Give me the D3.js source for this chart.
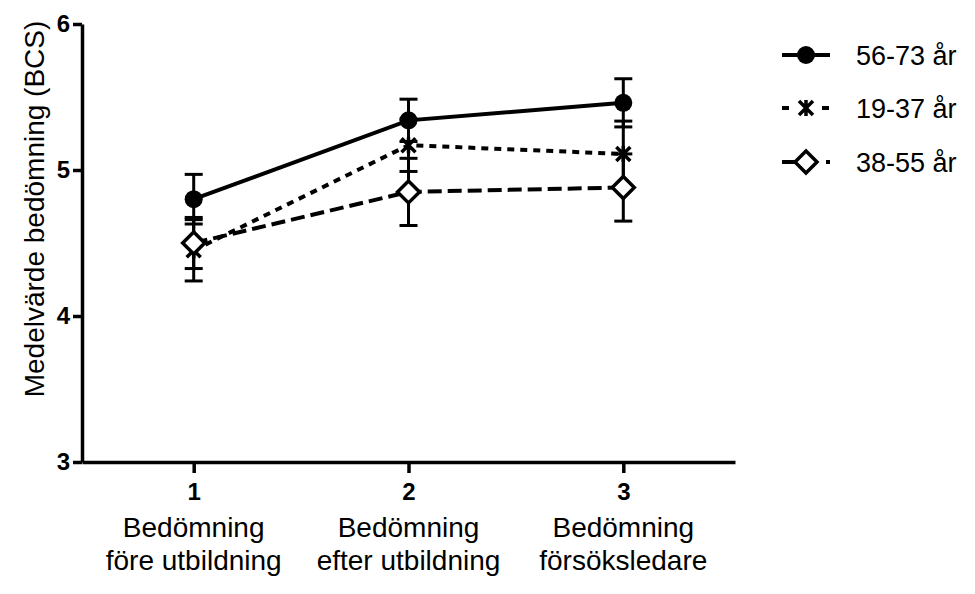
<!DOCTYPE html>
<html>
<head>
<meta charset="utf-8">
<script src="https://cdn.jsdelivr.net/npm/d3@7"></script>
<style>
  html, body { margin: 0; padding: 0; background: #fff; }
  svg { display: block; font-family: "Liberation Sans", Arial, sans-serif; }
</style>
</head>
<body>
<svg id="chart" width="975" height="594"></svg>
<script>
// measurement points and category texts
const occasions = [1, 2, 3];
const occasionLabels = [
  ['Bedömning', 'före utbildning'],
  ['Bedömning', 'efter utbildning'],
  ['Bedömning', 'försöksledare']
];
const yTicks = [3, 4, 5, 6];

const groups = ['56-73 år', '19-37 år', '38-55 år'];
const mean5673 = [4.80, 5.34, 5.46];
const err5673 = [0.17, 0.145, 0.165];
const mean1937 = [4.45, 5.17, 5.11];
const err1937 = [0.21, 0.18, 0.225];
const mean3855 = [4.50, 4.85, 4.88];
const err3855 = [0.175, 0.23, 0.23];

const svg = d3.select('#chart');

const x = d3.scaleLinear().domain([0.48, 3.52]).range([82, 735]);
const y = d3.scaleLinear().domain([3, 6]).range([462, 24]);

const series = [
  { name: groups[1], mean: mean1937, err: err1937, dash: '7,6', symbol: 'cross' },
  { name: groups[2], mean: mean3855, err: err3855, dash: '14,6', symbol: 'diamond' },
  { name: groups[0], mean: mean5673, err: err5673, dash: null, symbol: 'circle' }
];

// marker drawing
const drawMarker = (g, symbol) => {
  if (symbol === 'circle') {
    g.append('circle').attr('r', 9).attr('fill', '#000');
  } else if (symbol === 'diamond') {
    g.append('path').attr('d', 'M0,-11L11,0L0,11L-11,0Z')
      .attr('fill', '#fff').attr('stroke', '#000').attr('stroke-width', 3.5);
  } else {
    g.append('path').attr('d', 'M-7,-7L7,7M-7,7L7,-7M0,-8L0,8')
      .attr('stroke', '#000').attr('stroke-width', 3.5).attr('fill', 'none');
  }
};

// axes
const yAxis = svg.append('g')
  .attr('transform', `translate(${x.range()[0]},0)`)
  .call(d3.axisLeft(y).tickValues(yTicks).tickFormat(d3.format('d')).tickSize(9).tickSizeOuter(0).tickPadding(3));
yAxis.select('.domain').attr('stroke-width', 3.5);
yAxis.selectAll('.tick line').attr('stroke-width', 3.5);
yAxis.selectAll('.tick text').attr('font-size', 24).attr('font-weight', 'bold')
  .attr('font-family', '"Liberation Sans", Arial, sans-serif').attr('fill', '#000');

const xAxis = svg.append('g')
  .attr('transform', `translate(0,${y(3)})`)
  .call(d3.axisBottom(x).tickValues(occasions).tickFormat(d3.format('d')).tickSize(11).tickSizeOuter(0).tickPadding(10));
xAxis.select('.domain').attr('stroke-width', 3.5);
xAxis.selectAll('.tick line').attr('stroke-width', 3.5);
xAxis.selectAll('.tick text').attr('font-size', 24).attr('font-weight', 'bold')
  .attr('font-family', '"Liberation Sans", Arial, sans-serif').attr('fill', '#000');

// category labels under the axis
occasionLabels.forEach((lines, i) => {
  const t = svg.append('text')
    .attr('x', x(occasions[i]))
    .attr('y', 537)
    .attr('text-anchor', 'middle')
    .attr('font-size', 28)
    .attr('fill', '#000');
  lines.forEach((l, j) => {
    t.append('tspan').attr('x', x(occasions[i])).attr('dy', j === 0 ? 0 : 33).text(l);
  });
});

// y axis title
svg.append('text')
  .attr('transform', `translate(44,${(y(6) + y(3)) / 2 - 34}) rotate(-90)`)
  .attr('text-anchor', 'middle')
  .attr('font-size', 28)
  .attr('fill', '#000')
  .text('Medelvärde bedömning (BCS)');

// lines, error bars, markers
const line = d3.line().x((d, i) => x(occasions[i])).y(d => y(d));

series.forEach(s => {
  const g = svg.append('g');
  g.append('path')
    .datum(s.mean)
    .attr('d', line)
    .attr('fill', 'none')
    .attr('stroke', '#000')
    .attr('stroke-width', 4)
    .attr('stroke-dasharray', s.dash);

  s.mean.forEach((m, i) => {
    const cx = x(occasions[i]);
    const lo = y(m - s.err[i]);
    const hi = y(m + s.err[i]);
    g.append('line').attr('x1', cx).attr('x2', cx).attr('y1', lo).attr('y2', hi)
      .attr('stroke', '#000').attr('stroke-width', 3);
    [lo, hi].forEach(v => {
      g.append('line').attr('x1', cx - 9).attr('x2', cx + 9).attr('y1', v).attr('y2', v)
        .attr('stroke', '#000').attr('stroke-width', 3);
    });
  });
});

series.forEach(s => {
  s.mean.forEach((m, i) => {
    const g = svg.append('g').attr('transform', `translate(${x(occasions[i])},${y(m)})`);
    drawMarker(g, s.symbol);
  });
});

// legend
const legendRows = [
  { name: groups[0], dash: null, symbol: 'circle', ly: 55 },
  { name: groups[1], dash: '7,33,7,100', symbol: 'cross', ly: 108 },
  { name: groups[2], dash: '18,26,4,100', symbol: 'diamond', ly: 162 }
];

legendRows.forEach(r => {
  const g = svg.append('g').attr('transform', `translate(0,${r.ly})`);
  g.append('line').attr('x1', 782).attr('x2', 830).attr('y1', 0).attr('y2', 0)
    .attr('stroke', '#000').attr('stroke-width', 4).attr('stroke-dasharray', r.dash);
  const m = g.append('g').attr('transform', 'translate(806,0)');
  drawMarker(m, r.symbol);
  g.append('text').attr('x', 856).attr('y', 10).attr('font-size', 27).attr('fill', '#000').text(r.name);
});
</script>
</body>
</html>
